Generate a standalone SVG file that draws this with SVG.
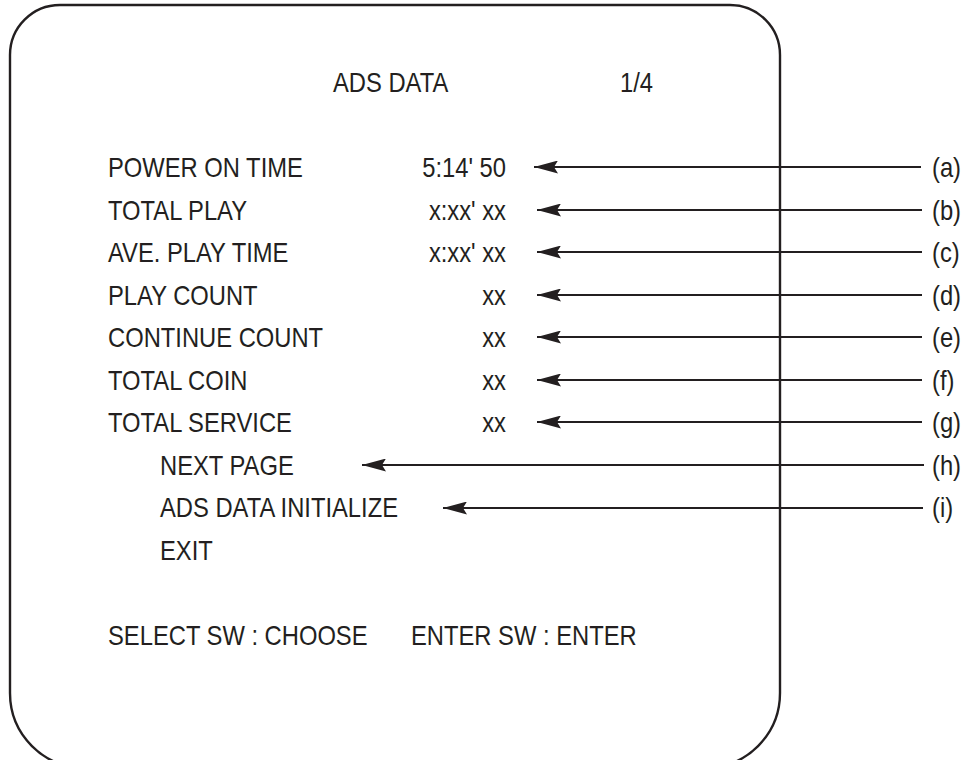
<svg xmlns="http://www.w3.org/2000/svg" width="966" height="760" viewBox="0 0 966 760">
<style>
  .t { font-family: "Liberation Sans", Arial, sans-serif; font-size: 27px; fill: #231f20; }
  .e { text-anchor: end; }
  .frame { fill: none; stroke: #231f20; stroke-width: 2.4; }
  .c { stroke: #231f20; stroke-width: 2.2; fill: none; marker-end: url(#ah); }
</style>
<defs>
  <marker id="ah" viewBox="0 0 24 13" markerUnits="userSpaceOnUse" markerWidth="24" markerHeight="13" refX="24" refY="6.5" orient="auto">
    <path d="M0,0 L24,6.5 L0,13 L4,6.5 Z" fill="#231f20"/>
  </marker>
</defs>
<rect width="966" height="760" fill="#ffffff"/>
<g id="screen">
  <path class="frame" d="M60,5 H730 A50,50 0 0 1 780,55 V693 A75,75 0 0 1 705,768 H85 A75,75 0 0 1 10,693 V55 A50,50 0 0 1 60,5 Z"/>
</g>
<g id="title">
  <text class="t" transform="translate(333,92) scale(0.88,1)">ADS DATA</text>
  <text class="t" transform="translate(620,92) scale(0.88,1)">1/4</text>
</g>
<g id="row-power-on-time">
  <text class="t" transform="translate(108,177) scale(0.88,1)">POWER ON TIME</text>
  <text class="t e" transform="translate(506,177) scale(0.88,1)">5:14' 50</text>
</g>
<g id="row-total-play">
  <text class="t" transform="translate(108,220) scale(0.88,1)">TOTAL PLAY</text>
  <text class="t e" transform="translate(506,220) scale(0.88,1)">x:xx' xx</text>
</g>
<g id="row-ave-play-time">
  <text class="t" transform="translate(108,262) scale(0.88,1)">AVE. PLAY TIME</text>
  <text class="t e" transform="translate(506,262) scale(0.88,1)">x:xx' xx</text>
</g>
<g id="row-play-count">
  <text class="t" transform="translate(108,305) scale(0.88,1)">PLAY COUNT</text>
  <text class="t e" transform="translate(506,305) scale(0.88,1)">xx</text>
</g>
<g id="row-continue-count">
  <text class="t" transform="translate(108,347) scale(0.88,1)">CONTINUE COUNT</text>
  <text class="t e" transform="translate(506,347) scale(0.88,1)">xx</text>
</g>
<g id="row-total-coin">
  <text class="t" transform="translate(108,390) scale(0.88,1)">TOTAL COIN</text>
  <text class="t e" transform="translate(506,390) scale(0.88,1)">xx</text>
</g>
<g id="row-total-service">
  <text class="t" transform="translate(108,432) scale(0.88,1)">TOTAL SERVICE</text>
  <text class="t e" transform="translate(506,432) scale(0.88,1)">xx</text>
</g>
<g id="row-next-page">
  <text class="t" transform="translate(160,475) scale(0.88,1)">NEXT PAGE</text>
</g>
<g id="row-ads-data-initialize">
  <text class="t" transform="translate(160,517) scale(0.88,1)">ADS DATA INITIALIZE</text>
</g>
<g id="row-exit">
  <text class="t" transform="translate(160,560) scale(0.88,1)">EXIT</text>
</g>
<g id="footer">
  <text class="t" transform="translate(108,645) scale(0.88,1)">SELECT SW : CHOOSE</text>
  <text class="t" transform="translate(411,645) scale(0.88,1)">ENTER SW : ENTER</text>
</g>
<g id="label-a"><text class="t" transform="translate(932,177) scale(0.88,1)">(a)</text></g>
<g id="label-b"><text class="t" transform="translate(932,220) scale(0.88,1)">(b)</text></g>
<g id="label-c"><text class="t" transform="translate(932,262) scale(0.88,1)">(c)</text></g>
<g id="label-d"><text class="t" transform="translate(932,305) scale(0.88,1)">(d)</text></g>
<g id="label-e"><text class="t" transform="translate(932,347) scale(0.88,1)">(e)</text></g>
<g id="label-f"><text class="t" transform="translate(932,390) scale(0.88,1)">(f)</text></g>
<g id="label-g"><text class="t" transform="translate(932,432) scale(0.88,1)">(g)</text></g>
<g id="label-h"><text class="t" transform="translate(932,475) scale(0.88,1)">(h)</text></g>
<g id="label-i"><text class="t" transform="translate(932,517) scale(0.88,1)">(i)</text></g>
<g id="connectors">
  <line class="c" x1="921" y1="167" x2="534" y2="167"/>
  <line class="c" x1="922" y1="210" x2="537" y2="210"/>
  <line class="c" x1="922" y1="252" x2="537" y2="252"/>
  <line class="c" x1="922" y1="295" x2="537" y2="295"/>
  <line class="c" x1="922" y1="337" x2="537" y2="337"/>
  <line class="c" x1="922" y1="380" x2="537" y2="380"/>
  <line class="c" x1="922" y1="422" x2="537" y2="422"/>
  <line class="c" x1="924" y1="465" x2="362" y2="465"/>
  <line class="c" x1="923" y1="508" x2="443" y2="508"/>
</g>
</svg>
